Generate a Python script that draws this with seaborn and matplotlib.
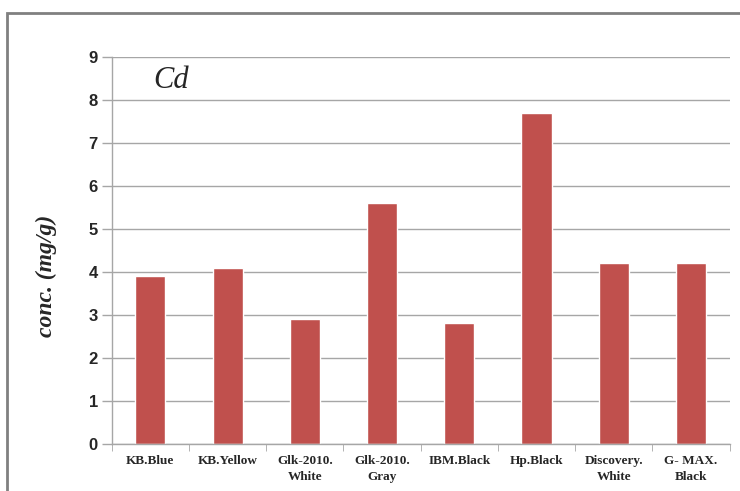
import numpy as np
import pandas as pd
import matplotlib.pyplot as plt
import seaborn as sns
from matplotlib.patches import Rectangle

# Data
samples = ['KB.Blue', 'KB.Yellow', 'Glk-2010.\nWhite', 'Glk-2010.\nGray', 'IBM.Black',
           'Hp.Black', 'Discovery.\nWhite', 'G- MAX.\nBlack']
cd_conc = [3.9, 4.1, 2.9, 5.6, 2.8, 7.7, 4.2, 4.2]
y_ticks = [0, 1, 2, 3, 4, 5, 6, 7, 8, 9]

df = pd.DataFrame({'sample': samples, 'conc': cd_conc})

sns.set_style('white')
fig = plt.figure(figsize=(7.4, 4.91), dpi=100)
ax = fig.add_axes([0.151, 0.096, 0.835, 0.788])

sns.barplot(data=df, x='sample', y='conc', color='#C0504D', saturation=1,
            width=0.39, ax=ax)

grid_col = '#A6A6A6'
ax.set_ylim(0, 9)
ax.set_yticks(y_ticks)
ax.set_yticklabels([str(t) for t in y_ticks], fontsize=12, fontweight='bold',
                   family='Liberation Sans')
ax.yaxis.grid(True, color=grid_col, linewidth=1)
ax.set_axisbelow(True)
ax.set_xlim(-0.5, len(samples) - 0.5)

ax.set_xticks(np.arange(len(samples)))
ax.set_xticklabels(samples, fontsize=9.5, fontweight='bold', family='Liberation Serif',
                   linespacing=1.4)
ax.tick_params(axis='x', length=0, pad=8)
ax.tick_params(axis='y', length=7, color=grid_col, width=1, pad=3, left=True)
# category boundary ticks on the x axis
ax.set_xticks(np.arange(len(samples) + 1) - 0.5, minor=True)
ax.tick_params(axis='x', which='minor', length=5, color=grid_col, bottom=True)

for side in ['top', 'right']:
    ax.spines[side].set_visible(False)
for side in ['left', 'bottom']:
    ax.spines[side].set_color(grid_col)
    ax.spines[side].set_linewidth(1)

ax.set_xlabel('')
ax.set_ylabel('conc. (mg/g)', fontsize=17, fontweight='bold', style='italic',
              family='Liberation Serif')
ax.yaxis.set_label_coords(-0.088, 0.434)

ax.text(0.068, 0.94, 'Cd', transform=ax.transAxes, fontsize=22, style='italic',
        family='Liberation Serif', va='center', ha='left')

# outer chart frame
fig.patches.append(Rectangle((7 / 740, -0.1), 1.1, 1 - 13 / 491 + 0.1,
                             transform=fig.transFigure, fill=False,
                             edgecolor='#808080', linewidth=2))

plt.savefig('out.png', dpi=100)
